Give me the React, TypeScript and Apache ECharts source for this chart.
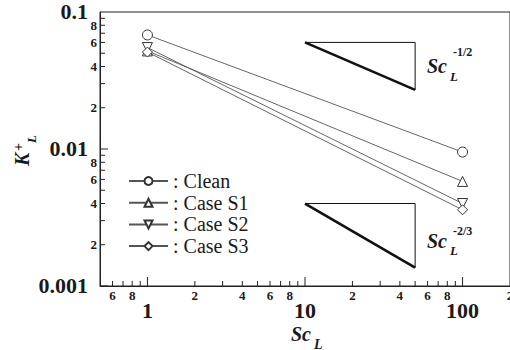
import React, { useEffect, useRef } from "react";
import * as echarts from "echarts";

// ---- data ----
const scL = [1, 100];
const clean = [0.068, 0.0095];
const caseS1 = [0.052, 0.0058];
const caseS2 = [0.055, 0.004];
const caseS3 = [0.051, 0.0036];

// slope indicator triangles (corner points)
const halfSlopeX = [10, 50, 50];
const halfSlopeY = [0.06, 0.06, 0.027];
const twoThirdSlopeX = [10, 50, 50];
const twoThirdSlopeY = [0.004, 0.004, 0.00136];

// axis ranges
const X_MIN = 0.5;
const X_MAX = 200;
const Y_MIN = 0.001;
const Y_MAX = 0.1;

// tick values and labels
const xMajorTicks = [1, 10, 100];
const xMajorLabels = ["1", "10", "100"];
const xMinorTicks = [0.6, 0.7, 0.8, 0.9, 2, 3, 4, 5, 6, 7, 8, 9, 20, 30, 40, 50, 60, 70, 80, 90, 200];
const xMinorLabelValues = [0.6, 0.8, 2, 4, 6, 8, 20, 40, 60, 80, 200];
const xMinorLabelTexts = ["6", "8", "2", "4", "6", "8", "2", "4", "6", "8", "2"];

const yMajorTicks = [0.001, 0.01, 0.1];
const yMajorLabels = ["0.001", "0.01", "0.1"];
const yMinorTicks = [0.002, 0.003, 0.004, 0.005, 0.006, 0.007, 0.008, 0.009, 0.02, 0.03, 0.04, 0.05, 0.06, 0.07, 0.08, 0.09];
const yMinorLabelValues = [0.002, 0.004, 0.006, 0.008, 0.02, 0.04, 0.06, 0.08];
const yMinorLabelTexts = ["2", "4", "6", "8", "2", "4", "6", "8"];

const seriesNames = ["Clean", "Case S1", "Case S2", "Case S3"];

const SERIF = "Liberation Serif";
const INK = "#1a1a1a";

type Tick = { v: number; major: boolean; label: string };

function buildTicks(majors: number[], majorLabels: string[], minors: number[], minorVals: number[], minorTexts: string[]): Tick[] {
  const out: Tick[] = [];
  majors.forEach((v, i) => out.push({ v, major: true, label: majorLabels[i] }));
  minors.forEach((v) => {
    const idx = minorVals.indexOf(v);
    out.push({ v, major: false, label: idx >= 0 ? minorTexts[idx] : "" });
  });
  return out;
}

const xTicks = buildTicks(xMajorTicks, xMajorLabels, xMinorTicks, xMinorLabelValues, xMinorLabelTexts);
const yTicks = buildTicks(yMajorTicks, yMajorLabels, yMinorTicks, yMinorLabelValues, yMinorLabelTexts);

function txt(text: string, x: number, y: number, size: number, italic: boolean, align = "left", vAlign = "middle") {
  return {
    type: "text",
    x,
    y,
    silent: true,
    style: {
      text,
      fontFamily: SERIF,
      fontSize: size,
      fontWeight: "bold",
      fontStyle: italic ? "italic" : "normal",
      fill: INK,
      align,
      verticalAlign: vAlign,
    },
  };
}

export default function App() {
  const ref = useRef<HTMLDivElement>(null);

  useEffect(() => {
    if (!ref.current) return;
    const chart = echarts.init(ref.current, undefined, { renderer: "svg" });

    const dataSeries = [clean, caseS1, caseS2, caseS3].map((vals, i) => ({
      name: seriesNames[i],
      type: "line",
      data: scL.map((x, j) => [x, vals[j]]),
      symbol: ["circle", "triangle", "triangle", "diamond"][i],
      symbolRotate: i === 2 ? 180 : 0,
      symbolSize: [10, 10, 10, 10][i],
      itemStyle: { color: "#ffffff", borderColor: "#333", borderWidth: 1 },
      lineStyle: { color: "#555", width: 0.9 },
      z: 3,
    }));

    const slopeLine = (xs: number[], ys: number[], width: number) => ({
      type: "line",
      silent: true,
      symbol: "none",
      data: xs.map((x, i) => [x, ys[i]]),
      lineStyle: { color: "#111", width },
      z: 2,
    });

    const option: any = {
      animation: false,
      backgroundColor: "#ffffff",
      textStyle: { fontFamily: SERIF },
      grid: {
        left: 100,
        top: 12,
        width: 410,
        height: 274,
        show: true,
        borderColor: "#222",
        borderWidth: 1,
        backgroundColor: "transparent",
      },
      xAxis: {
        type: "log",
        logBase: 10,
        min: X_MIN,
        max: X_MAX,
        axisLine: { show: true, lineStyle: { color: "#222", width: 1 } },
        axisTick: { show: false },
        axisLabel: { show: false },
        splitLine: { show: false },
        minorTick: { show: false },
      },
      yAxis: {
        type: "log",
        logBase: 10,
        min: Y_MIN,
        max: Y_MAX,
        axisLine: { show: true, lineStyle: { color: "#222", width: 1 } },
        axisTick: { show: false },
        axisLabel: { show: false },
        splitLine: { show: false },
        minorTick: { show: false },
      },
      legend: {
        data: seriesNames,
        orient: "vertical",
        left: 128,
        top: 171,
        padding: 0,
        itemWidth: 39,
        itemHeight: 10,
        itemGap: 1.7,
        formatter: ": {name}",
        textStyle: { fontFamily: SERIF, fontSize: 20, color: INK, lineHeight: 20 },
        selectedMode: false,
      },
      series: [
        ...dataSeries,
        slopeLine(halfSlopeX, halfSlopeY, 1),
        slopeLine([halfSlopeX[0], halfSlopeX[2]], [halfSlopeY[0], halfSlopeY[2]], 2.6),
        slopeLine(twoThirdSlopeX, twoThirdSlopeY, 1),
        slopeLine([twoThirdSlopeX[0], twoThirdSlopeX[2]], [twoThirdSlopeY[0], twoThirdSlopeY[2]], 2.6),
        {
          type: "custom",
          coordinateSystem: "cartesian2d",
          silent: true,
          clip: false,
          z: 5,
          data: xTicks.map((t) => [t.v, Y_MIN]),
          renderItem: (params: any, api: any) => {
            const t = xTicks[params.dataIndex];
            const p = api.coord([t.v, Y_MIN]);
            const children: any[] = [];
            if (t.v < X_MAX) {
              const len = t.major ? 9 : 5;
              children.push({
                type: "line",
                shape: { x1: p[0], y1: p[1], x2: p[0], y2: p[1] - len },
                style: { stroke: "#222", lineWidth: 1 },
              });
            }
            if (t.label) {
              children.push(
                txt(t.label, p[0], p[1] + (t.major ? 24 : 9.5), t.major ? 22 : 13, false, "center", "middle")
              );
            }
            return { type: "group", children };
          },
        },
        {
          type: "custom",
          coordinateSystem: "cartesian2d",
          silent: true,
          clip: false,
          z: 5,
          data: yTicks.map((t) => [X_MIN, t.v]),
          renderItem: (params: any, api: any) => {
            const t = yTicks[params.dataIndex];
            const p = api.coord([X_MIN, t.v]);
            const children: any[] = [];
            if (t.v < Y_MAX) {
              const len = t.major ? 8 : 5;
              children.push({
                type: "line",
                shape: { x1: p[0], y1: p[1], x2: p[0] + len, y2: p[1] },
                style: { stroke: "#222", lineWidth: 1 },
              });
            }
            if (t.label) {
              const major = t.major;
              children.push(
                txt(t.label, p[0] - (major ? 12 : 3), p[1] - (major ? 1 : 0), major ? 22 : 13, false, "right", "middle")
              );
            }
            return { type: "group", children };
          },
        },
      ],
      graphic: [
        // y-axis title K^+_L (rotated)
        {
          type: "group",
          x: 22,
          y: 166,
          rotation: Math.PI / 2,
          children: [
            txt("K", 0, 0, 20, true, "left", "middle"),
            txt("+", 15, -4, 14, false, "left", "middle"),
            txt("L", 23, 9, 13, true, "left", "middle"),
          ],
        },
        // x-axis title Sc_L
        txt("Sc", 291, 334, 20, true, "left", "middle"),
        txt("L", 314, 344, 14, true, "left", "middle"),
        // slope labels
        txt("Sc", 427, 66, 20, true, "left", "middle"),
        txt("L", 450, 76, 13, true, "left", "middle"),
        txt("-1/2", 453, 51.5, 12, false, "left", "middle"),
        txt("Sc", 427, 241, 20, true, "left", "middle"),
        txt("L", 450, 250, 13, true, "left", "middle"),
        txt("-2/3", 453, 231, 12, false, "left", "middle"),
      ],
    };

    chart.setOption(option);
    return () => chart.dispose();
  }, []);

  return (
    <div
      ref={ref}
      style={{ position: "fixed", left: 0, top: 0, width: 510, height: 350, background: "#fff" }}
    />
  );
}
